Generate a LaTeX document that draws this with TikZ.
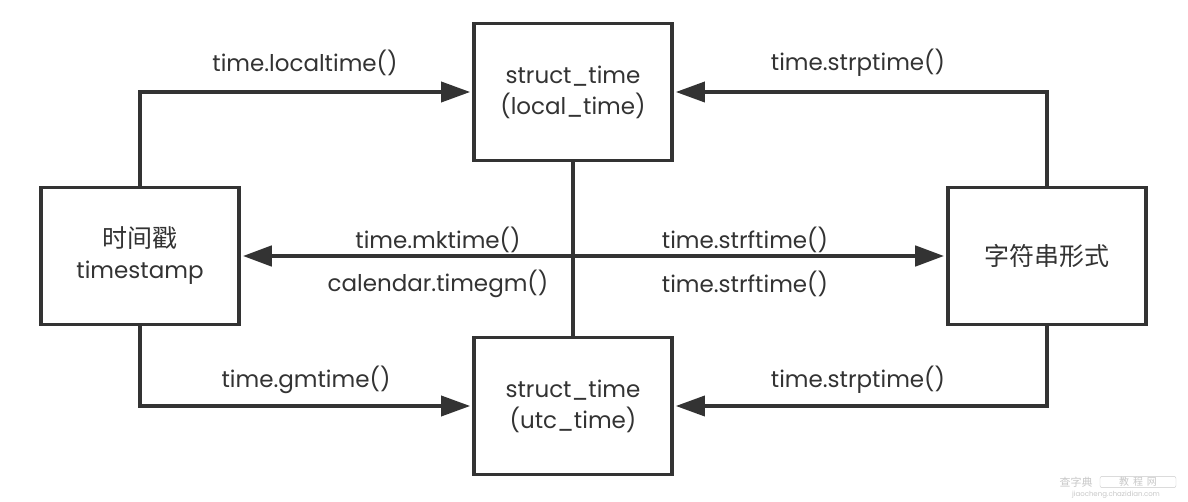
\documentclass[tikz,border=0pt]{standalone}
\usepackage{fontspec}
\setmainfont{Poppins}
\newfontfamily\cjk{Noto Sans CJK SC}
\usetikzlibrary{arrows.meta}
\definecolor{ink}{HTML}{333333}
\definecolor{wm}{HTML}{C8C8C8}
\begin{document}
\begin{tikzpicture}[x=1pt,y=-1pt,
  box/.style={draw=ink,line width=3.6pt,minimum width=198pt,minimum height=137pt,inner sep=0pt,align=center,text=ink,font=\fontsize{23}{31}\selectfont},
  conn/.style={draw=ink,line width=3.6pt,-{Triangle[length=29pt,width=20pt]},shorten >=2pt},
  mainline/.style={draw=ink,line width=4.6pt,{Triangle[length=29pt,width=20pt]}-{Triangle[length=29pt,width=20pt]},shorten >=2pt,shorten <=2pt},
  plain/.style={draw=ink,line width=3.6pt},
  lbl/.style={text=ink,font=\fontsize{23}{28}\selectfont,inner sep=0pt}]
\useasboundingbox (0,0) rectangle (1188,502);
\fill[white] (0,0) rectangle (1188,502);
\node[box] (lt) at (573,92) {struct\_time\\(local\_time)};
\node[box] (ut) at (573,406) {struct\_time\\(utc\_time)};
\node[box] (ts) at (140,256) {{\cjk\fontsize{25}{31}\selectfont 时间戳}\\timestamp};
\node[box] (st) at (1047,256) {\cjk\fontsize{25}{31}\selectfont 字符串形式};
\draw[plain] (lt.south) -- (ut.north);
\draw[mainline] (ts.east) -- (st.west);
\draw[conn] (ts.north) |- (lt.west);
\draw[conn] (st.north) |- (lt.east);
\draw[conn] (ts.south) |- (ut.west);
\draw[conn] (st.south) |- (ut.east);
\node[lbl] (a1) at (305,63) {time.localtime()};
\node[lbl] (a2) at (858,63) {time.strptime()};
\node[lbl] (a3) at (438,240) {time.mktime()};
\node[lbl] (a4) at (438,284) {calendar.timegm()};
\node[lbl] (a5) at (745,240) {time.strftime()};
\node[lbl] (a6) at (745,284) {time.strftime()};
\node[lbl] (a7) at (306,380) {time.gmtime()};
\node[lbl] (a8) at (858,380) {time.strptime()};
\node[text=wm,font=\cjk\fontsize{11}{12}\selectfont,inner sep=0pt] (w1) at (1076,482) {查字典};
\node[draw=wm,text=wm,font=\cjk\fontsize{10}{12}\selectfont,inner sep=1pt,minimum width=76pt,rounded corners=2pt] (w2) at (1138,482) {教\, 程\, 网};
\node[text=wm,font=\fontsize{7}{8}\selectfont,inner sep=0pt] (w3) at (1116,495) {jiaocheng.chazidian.com};
\end{tikzpicture}
\end{document}
